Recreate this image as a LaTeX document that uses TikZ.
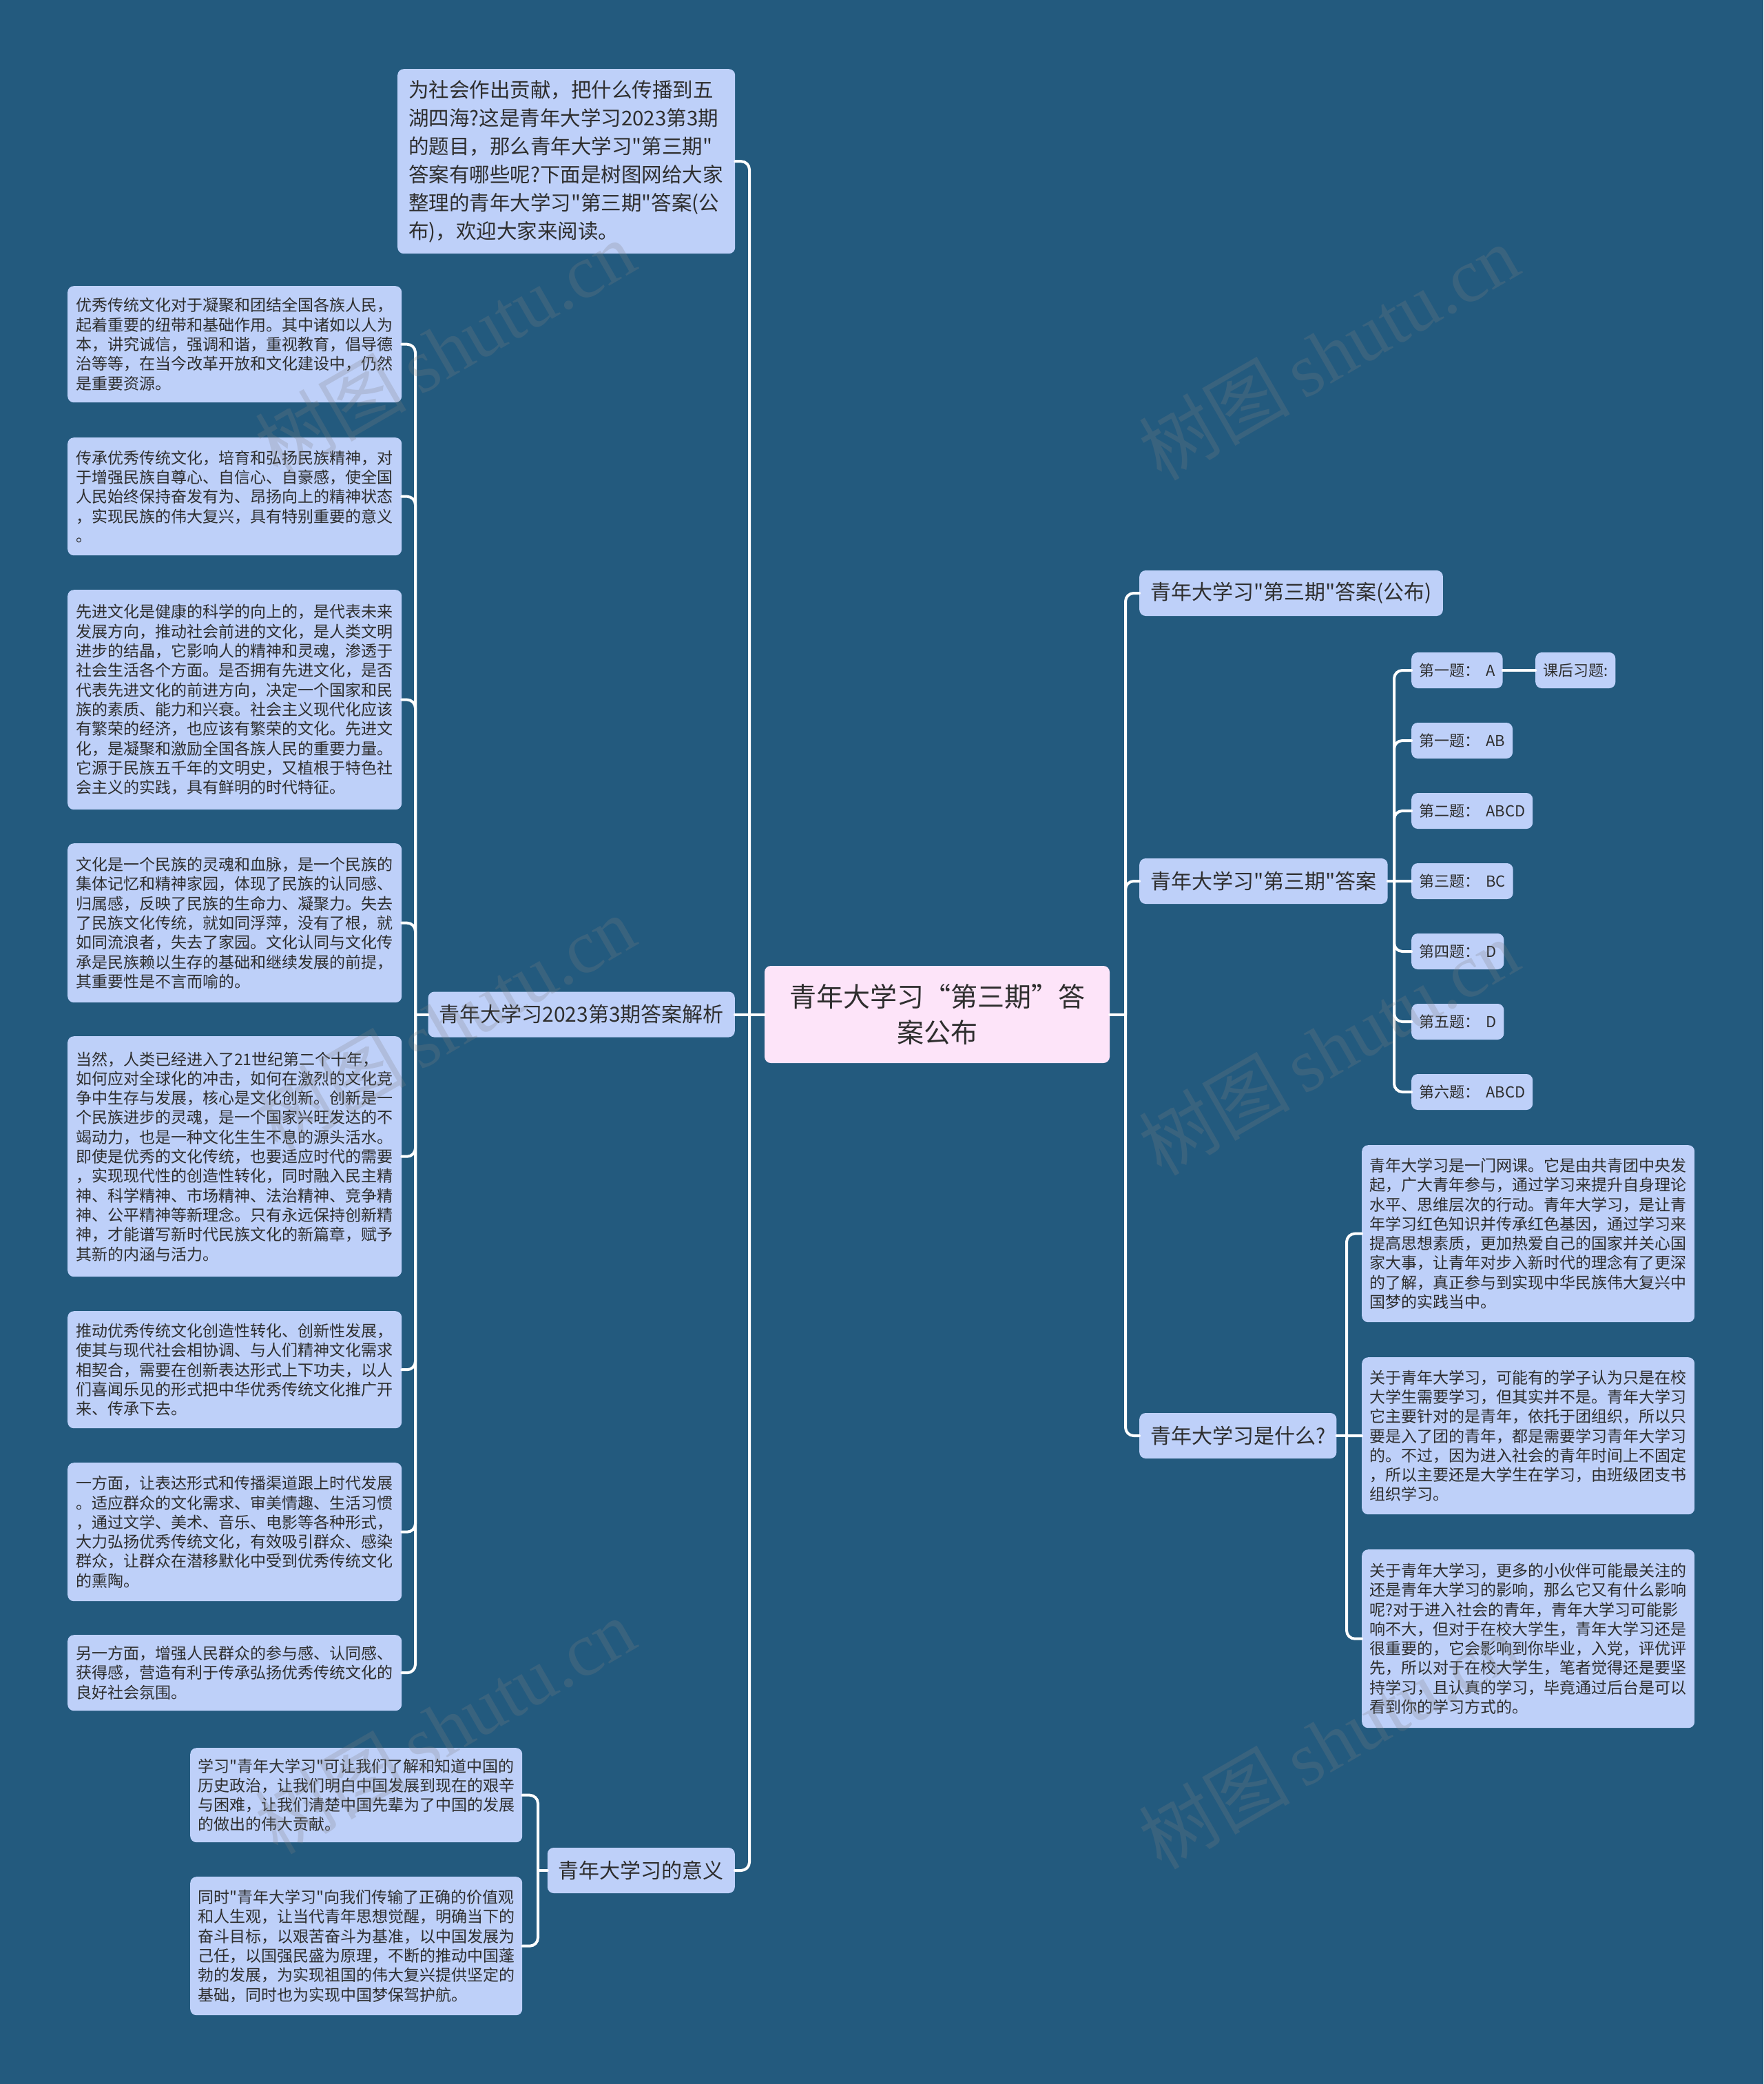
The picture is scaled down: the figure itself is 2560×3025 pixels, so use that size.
\documentclass[tikz,border=0pt]{standalone}
\usepackage{fontspec}
\setmainfont{Noto Sans CJK SC}[Ligatures=TeXOff]
\newfontfamily\wmserif{Liberation Serif}
\usetikzlibrary{calc}
\definecolor{bgc}{HTML}{235A7E}
\definecolor{boxc}{HTML}{BED0F9}
\definecolor{rootc}{HTML}{FDE4F9}
\definecolor{txtc}{HTML}{2E2E2E}
\tikzset{
  conn/.style={draw=white, line width=4pt, rounded corners=12pt, line cap=round},
  bx/.style={fill=boxc, rounded corners=9pt, text=txtc, inner ysep=0pt},
  para/.style={bx, anchor=north west, align=left, inner xsep=12pt, text width=461pt, font=\fontsize{23}{28.3}\selectfont},
  lv/.style={bx, minimum height=66pt, inner xsep=16pt, font=\fontsize{30}{36}\selectfont},
  ans/.style={bx, anchor=west, minimum height=52pt, inner xsep=11pt, font=\fontsize{22}{26}\selectfont},
  wm/.style={rotate=30, text=gray, text opacity=0.24, font=\fontsize{110}{120}\selectfont}
}
\begin{document}
\begin{tikzpicture}[x=1pt,y=-1pt]
\useasboundingbox (0,0) rectangle (2560,3025);
\fill[bgc] (0,0) rectangle (2560,3025);

% trunk coordinates
\coordinate (tl) at (1088,0);
\coordinate (tr) at (1634,0);
\coordinate (sl) at (603,0);
\coordinate (sm) at (781,0);
\coordinate (sa) at (2024,0);
\coordinate (sw) at (1955,0);

% root
\node[bx, fill=rootc, minimum width=501pt, minimum height=141pt, align=center, font=\fontsize{39}{52}\selectfont] (root) at (1360.5,1472.5) {青年大学习“第三期”答\\案公布};

% left level 1
\node[para, text width=458pt, inner xsep=16pt, minimum height=268pt, font=\fontsize{29.5}{41}\selectfont] (intro) at (577,100) {为社会作出贡献，把什么传播到五\\湖四海?这是青年大学习2023第3期\\的题目，那么青年大学习"第三期"\\答案有哪些呢?下面是树图网给大家\\整理的青年大学习"第三期"答案(公\\布)，欢迎大家来阅读。};
\node[lv, anchor=east] (jx) at (1067,1472.5) {青年大学习2023第3期答案解析};
\node[lv, anchor=east] (yy) at (1067,2715) {青年大学习的意义};

% right level 1
\node[lv, anchor=west] (r1) at (1654,861) {青年大学习"第三期"答案(公布)};
\node[lv, anchor=west] (r2) at (1654,1279) {青年大学习"第三期"答案};
\node[lv, anchor=west] (r3) at (1654,2084) {青年大学习是什么?};

% left paragraphs
\node[para, minimum height=169pt] (L1) at (98,415) {优秀传统文化对于凝聚和团结全国各族人民，\\起着重要的纽带和基础作用。其中诸如以人为\\本，讲究诚信，强调和谐，重视教育，倡导德\\治等等，在当今改革开放和文化建设中，仍然\\是重要资源。};
\node[para, minimum height=171pt] (L2) at (98,635) {传承优秀传统文化，培育和弘扬民族精神，对\\于增强民族自尊心、自信心、自豪感，使全国\\人民始终保持奋发有为、昂扬向上的精神状态\\，实现民族的伟大复兴，具有特别重要的意义\\。};
\node[para, minimum height=319pt] (L3) at (98,856) {先进文化是健康的科学的向上的，是代表未来\\发展方向，推动社会前进的文化，是人类文明\\进步的结晶，它影响人的精神和灵魂，渗透于\\社会生活各个方面。是否拥有先进文化，是否\\代表先进文化的前进方向，决定一个国家和民\\族的素质、能力和兴衰。社会主义现代化应该\\有繁荣的经济，也应该有繁荣的文化。先进文\\化，是凝聚和激励全国各族人民的重要力量。\\它源于民族五千年的文明史，又植根于特色社\\会主义的实践，具有鲜明的时代特征。};
\node[para, minimum height=231pt] (L4) at (98,1224) {文化是一个民族的灵魂和血脉，是一个民族的\\集体记忆和精神家园，体现了民族的认同感、\\归属感，反映了民族的生命力、凝聚力。失去\\了民族文化传统，就如同浮萍，没有了根，就\\如同流浪者，失去了家园。文化认同与文化传\\承是民族赖以生存的基础和继续发展的前提，\\其重要性是不言而喻的。};
\node[para, minimum height=349pt] (L5) at (98,1504) {当然，人类已经进入了21世纪第二个十年，\\如何应对全球化的冲击，如何在激烈的文化竞\\争中生存与发展，核心是文化创新。创新是一\\个民族进步的灵魂，是一个国家兴旺发达的不\\竭动力，也是一种文化生生不息的源头活水。\\即使是优秀的文化传统，也要适应时代的需要\\，实现现代性的创造性转化，同时融入民主精\\神、科学精神、市场精神、法治精神、竞争精\\神、公平精神等新理念。只有永远保持创新精\\神，才能谱写新时代民族文化的新篇章，赋予\\其新的内涵与活力。};
\node[para, minimum height=170pt] (L6) at (98,1903) {推动优秀传统文化创造性转化、创新性发展，\\使其与现代社会相协调、与人们精神文化需求\\相契合，需要在创新表达形式上下功夫，以人\\们喜闻乐见的形式把中华优秀传统文化推广开\\来、传承下去。};
\node[para, minimum height=201pt] (L7) at (98,2123) {一方面，让表达形式和传播渠道跟上时代发展\\。适应群众的文化需求、审美情趣、生活习惯\\，通过文学、美术、音乐、电影等各种形式，\\大力弘扬优秀传统文化，有效吸引群众、感染\\群众，让群众在潜移默化中受到优秀传统文化\\的熏陶。};
\node[para, minimum height=110pt] (L8) at (98,2373) {另一方面，增强人民群众的参与感、认同感、\\获得感，营造有利于传承弘扬优秀传统文化的\\良好社会氛围。};

% meaning paragraphs
\node[para, text width=460pt, inner xsep=11pt, minimum height=137pt] (M1) at (276,2537) {学习"青年大学习"可让我们了解和知道中国的\\历史政治，让我们明白中国发展到现在的艰辛\\与困难，让我们清楚中国先辈为了中国的发展\\的做出的伟大贡献。};
\node[para, text width=460pt, inner xsep=11pt, minimum height=201pt] (M2) at (276,2724) {同时"青年大学习"向我们传输了正确的价值观\\和人生观，让当代青年思想觉醒，明确当下的\\奋斗目标，以艰苦奋斗为基准，以中国发展为\\己任，以国强民盛为原理，不断的推动中国蓬\\勃的发展，为实现祖国的伟大复兴提供坚定的\\基础，同时也为实现中国梦保驾护航。};

% answers
\node[ans] (A1) at (2049,973) {第一题：\hspace{9pt}A};
\node[ans] (K) at (2229,973) {课后习题:};
\node[ans] (A2) at (2049,1075) {第一题：\hspace{9pt}AB};
\node[ans] (A3) at (2049,1177) {第二题：\hspace{9pt}ABCD};
\node[ans] (A4) at (2049,1279) {第三题：\hspace{9pt}BC};
\node[ans] (A5) at (2049,1381) {第四题：\hspace{9pt}D};
\node[ans] (A6) at (2049,1483) {第五题：\hspace{9pt}D};
\node[ans] (A7) at (2049,1585) {第六题：\hspace{9pt}ABCD};

% what-is paragraphs
\node[para, inner xsep=11pt, minimum height=257pt] (W1) at (1977,1662) {青年大学习是一门网课。它是由共青团中央发\\起，广大青年参与，通过学习来提升自身理论\\水平、思维层次的行动。青年大学习，是让青\\年学习红色知识并传承红色基因，通过学习来\\提高思想素质，更加热爱自己的国家并关心国\\家大事，让青年对步入新时代的理念有了更深\\的了解，真正参与到实现中华民族伟大复兴中\\国梦的实践当中。};
\node[para, inner xsep=11pt, minimum height=228pt] (W2) at (1977,1970) {关于青年大学习，可能有的学子认为只是在校\\大学生需要学习，但其实并不是。青年大学习\\它主要针对的是青年，依托于团组织，所以只\\要是入了团的青年，都是需要学习青年大学习\\的。不过，因为进入社会的青年时间上不固定\\，所以主要还是大学生在学习，由班级团支书\\组织学习。};
\node[para, inner xsep=11pt, minimum height=259pt] (W3) at (1977,2249) {关于青年大学习，更多的小伙伴可能最关注的\\还是青年大学习的影响，那么它又有什么影响\\呢?对于进入社会的青年，青年大学习可能影\\响不大，但对于在校大学生，青年大学习还是\\很重要的，它会影响到你毕业，入党，评优评\\先，所以对于在校大学生，笔者觉得还是要坚\\持学习，且认真的学习，毕竟通过后台是可以\\看到你的学习方式的。};

% connectors: root left
\draw[conn] (root.west) -- (tl |- root.west);
\draw[conn] (tl |- root.west) |- (intro.east);
\draw[conn] (tl |- root.west) -- (jx.east);
\draw[conn] (tl |- root.west) |- (yy.east);
% root right
\draw[conn] (root.east) -- (tr |- root.east);
\draw[conn] (tr |- root.east) |- (r1.west);
\draw[conn] (tr |- root.east) |- (r2.west);
\draw[conn] (tr |- root.east) |- (r3.west);
% analysis
\draw[conn] (jx.west) -- (sl |- jx.west);
\foreach \n in {L1,L2,L3,L4,L5,L6,L7,L8}
  \draw[conn] (sl |- jx.west) |- (\n.east);
% meaning
\draw[conn] (yy.west) -- (sm |- yy.west);
\draw[conn] (sm |- yy.west) |- (M1.east);
\draw[conn] (sm |- yy.west) |- (M2.east);
% answers
\draw[conn] (r2.east) -- (sa |- r2.east);
\foreach \n in {A1,A2,A3,A5,A6,A7}
  \draw[conn] (sa |- r2.east) |- (\n.west);
\draw[conn] (sa |- r2.east) -- (A4.west);
\draw[conn] (A1.east) -- (K.west);
% what is
\draw[conn] (r3.east) -- (sw |- r3.east);
\draw[conn] (sw |- r3.east) |- (W1.west);
\draw[conn] (sw |- r3.east) -- (W2.west);
\draw[conn] (sw |- r3.east) |- (W3.west);

% watermarks
\foreach \p/\q in {646/505, 1929/511, 646/1485, 1929/1520, 646/2505, 1929/2527}
  \node[wm] at (\p,\q) {树图\,{\wmserif shutu.cn}};
\end{tikzpicture}
\end{document}
